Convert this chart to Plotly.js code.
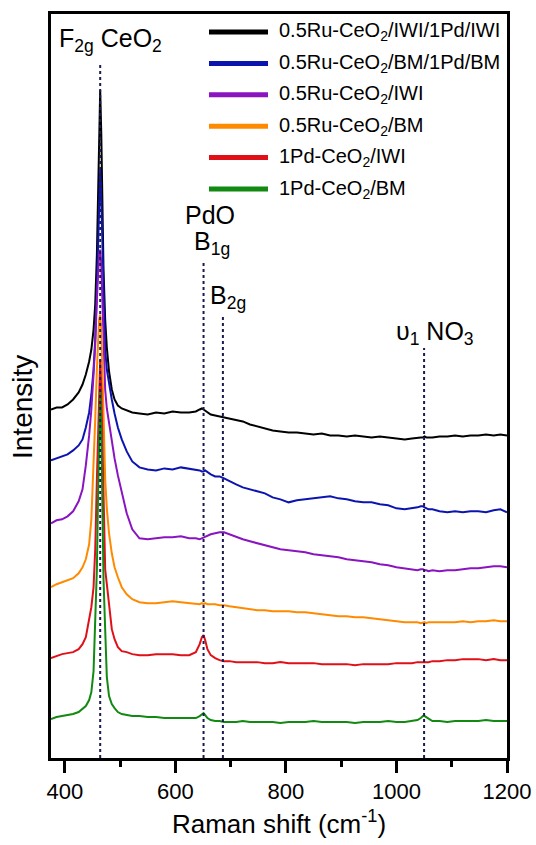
<!DOCTYPE html>
<html>
<head>
<meta charset="utf-8">
<script src="https://cdn.plot.ly/plotly-3.0.1.min.js"></script>
<style>
  html, body { margin: 0; padding: 0; background: #fff; }
  #chart { width: 536px; height: 845px; }
</style>
</head>
<body>
<div id="chart"></div>
<script>
// Raman shift (cm-1)
const ramanShift = [375,385,395,405,415,425,432,438,444,448,
  452,455,458,460,462,464,466,468,470,473,
  476,480,485,490,496,503,512,522,535,550,
  565,580,595,610,625,637,644,648,651,654,
  658,664,672,680,688,698,710,722,735,748,
  762,776,790,805,820,835,850,865,880,895,
  910,925,940,955,970,985,1000,1015,1028,1038,
  1044,1048,1051,1054,1058,1065,1078,1092,1106,1120,
  1134,1148,1162,1176,1188,1200];

const seriesNames = [
  "0.5Ru-CeO<sub>2</sub>/IWI/1Pd/IWI",
  "0.5Ru-CeO<sub>2</sub>/BM/1Pd/BM",
  "0.5Ru-CeO<sub>2</sub>/IWI",
  "0.5Ru-CeO<sub>2</sub>/BM",
  "1Pd-CeO<sub>2</sub>/IWI",
  "1Pd-CeO<sub>2</sub>/BM"
];
const seriesColors = ["#000000", "#0c14b0", "#8a14c0", "#ff8a00", "#e01018", "#128a12"];

// Offset (stacked) intensities, arbitrary units
const ruIwiPdIwi = [349,351,351,354,359,366,374,384,397,409,
  429,454,504,554,614,669,624,559,489,439,
  411,387,369,359,353,350,348,346,345,344,
  346,345,347,346,346,347,349,350,349,348,
  346,344,343,342,341,340,338,337,334,332,
  330,328,327,326,326,325,324,325,323,323,
  322,323,322,321,322,321,320,319,320,321,
  321,321,322,321,321,321,322,322,323,322,
  323,323,324,323,324,323];
const ruBmPdBm = [298,300,302,304,308,313,319,331,346,364,
  389,419,469,519,564,589,559,509,459,409,
  389,374,359,345,331,319,307,297,291,289,
  288,290,289,291,290,289,288,287,287,288,
  286,284,282,282,280,277,274,271,269,267,
  265,261,259,256,258,259,260,261,262,260,
  259,257,256,256,254,253,250,249,250,251,
  252,252,251,250,249,249,247,246,247,246,
  247,247,246,248,249,246];
const ruIwi = [235,238,239,242,247,257,269,293,323,349,
  384,414,459,484,504,509,494,459,419,369,
  350,335,318,300,283,265,245,229,220,219,
  220,221,221,222,220,220,219,220,221,222,
  223,224,225,226,226,224,221,219,217,215,
  213,211,209,208,207,206,204,203,202,201,
  199,198,197,196,194,193,191,190,189,188,
  189,189,188,188,187,188,187,188,188,189,
  190,190,191,192,192,191];
const ruBm = [171,174,176,178,180,185,191,199,214,239,
  289,339,389,419,439,444,429,389,339,279,
  250,225,205,191,181,171,164,159,156,155,
  155,156,157,156,155,154,154,155,154,155,
  154,154,154,153,153,152,151,150,149,148,
  148,147,147,147,146,146,145,144,143,142,
  142,141,141,140,139,138,137,136,136,136,
  135,136,136,135,136,136,136,136,136,137,
  136,137,137,138,137,137];
const pdIwi = [100,102,104,105,106,109,114,121,137,151,
  171,209,279,329,379,399,369,309,239,189,
  174,151,129,119,111,107,106,104,103,103,
  104,104,104,103,103,106,114,121,123,118,
  109,103,100,98,97,97,96,96,96,96,
  95,95,96,95,95,95,95,94,94,94,
  94,93,94,94,94,94,95,95,95,96,
  96,96,96,96,96,97,97,98,98,99,
  99,99,98,99,98,98];
const pdBm = [39,41,42,43,44,46,49,52,58,66,
  87,129,189,259,339,369,329,249,179,129,
  81,62,54,50,46,44,43,42,42,41,
  41,40,40,40,40,40,42,44,45,43,
  40,38,37,37,36,36,36,37,36,36,
  36,36,35,36,36,36,37,36,36,36,
  36,35,36,36,36,37,36,36,37,38,
  40,42,42,41,39,37,37,36,37,37,
  37,37,38,37,37,37];

const seriesValues = [ruIwiPdIwi, ruBmPdBm, ruIwi, ruBm, pdIwi, pdBm];

// Band positions (cm-1) and their labels
const bandPositions = [464, 651, 686, 1050];
const bandLabels = ["F<sub>2g</sub> CeO<sub>2</sub>", "PdO<br>B<sub>1g</sub>", "B<sub>2g</sub>", "υ<sub>1</sub> NO<sub>3</sub>"];

const FONT = "Liberation Sans, Arial, sans-serif";
const L = 51, R = 29, T = 14, B = 87, W = 536, H = 845;
const plotW = W - L - R, plotH = H - T - B;
const xp = px => (px - L) / plotW;
const yp = py => (H - B - py) / plotH;

const traces = seriesValues.map((vals, i) => ({
  type: "scatter", mode: "lines",
  x: ramanShift, y: vals,
  name: seriesNames[i],
  line: {color: seriesColors[i], width: 2},
  showlegend: false
}));

const shapes = [];
const annotations = [];

// dotted band markers
const bandTops = [63, 260, 315, 348];
bandPositions.forEach((b, i) => {
  shapes.push({type: "line", xref: "x", yref: "paper", x0: b, x1: b, y0: 0, y1: yp(bandTops[i]),
    line: {color: "#1b1b4f", width: 2, dash: "dot"}});
});

// band labels
const lblFont = {family: FONT, size: 25, color: "#000"};
annotations.push({text: bandLabels[0], xref: "paper", yref: "paper", x: xp(57), y: yp(40), xanchor: "left", yanchor: "middle", showarrow: false, font: lblFont});
annotations.push({text: "PdO", xref: "paper", yref: "paper", x: xp(210), y: yp(215), xanchor: "center", yanchor: "middle", showarrow: false, font: lblFont});
annotations.push({text: "B<sub>1g</sub>", xref: "paper", yref: "paper", x: xp(212), y: yp(243), xanchor: "center", yanchor: "middle", showarrow: false, font: lblFont});
annotations.push({text: bandLabels[2], xref: "paper", yref: "paper", x: xp(228), y: yp(297), xanchor: "center", yanchor: "middle", showarrow: false, font: lblFont});
annotations.push({text: bandLabels[3], xref: "paper", yref: "paper", x: xp(435), y: yp(333), xanchor: "center", yanchor: "middle", showarrow: false, font: lblFont});

// custom legend
seriesNames.forEach((n, i) => {
  const py = 32 + i * 31.4;
  shapes.push({type: "line", xref: "paper", yref: "paper", x0: xp(209), x1: xp(268), y0: yp(py), y1: yp(py),
    line: {color: seriesColors[i], width: 5}});
  annotations.push({text: n, xref: "paper", yref: "paper", x: xp(277), y: yp(py), xanchor: "left", yanchor: "middle",
    showarrow: false, font: {family: FONT, size: 20, color: "#000"}});
});

// y title
annotations.push({text: "Intensity", xref: "paper", yref: "paper", x: xp(22), y: yp(407), xanchor: "center", yanchor: "middle",
  textangle: -90, showarrow: false, font: {family: FONT, size: 28, color: "#000"}});

const layout = {
  width: W, height: H,
  margin: {l: L, r: R, t: T, b: B, pad: 0},
  paper_bgcolor: "#fff", plot_bgcolor: "#fff",
  showlegend: false,
  font: {family: FONT, color: "#000"},
  xaxis: {
    range: [375, 1200], dtick: 200, tick0: 400,
    showgrid: false, zeroline: false,
    showline: true, mirror: true, linecolor: "#000", linewidth: 3,
    ticks: "outside", ticklen: 12, tickwidth: 3, tickcolor: "#000",
    minor: {ticks: "outside", dtick: 100, tick0: 400, ticklen: 6, tickwidth: 3, tickcolor: "#000", showgrid: false},
    tickfont: {family: FONT, size: 22, color: "#000"},
    title: {text: "Raman shift (cm<sup>-1</sup>)", font: {family: FONT, size: 26, color: "#000"}, standoff: 12}
  },
  yaxis: {
    range: [0, 745],
    showgrid: false, zeroline: false, showticklabels: false, ticks: "",
    showline: true, mirror: true, linecolor: "#000", linewidth: 3
  },
  shapes: shapes,
  annotations: annotations
};

Plotly.newPlot("chart", traces, layout, {displayModeBar: false, staticPlot: true});
</script>
</body>
</html>
